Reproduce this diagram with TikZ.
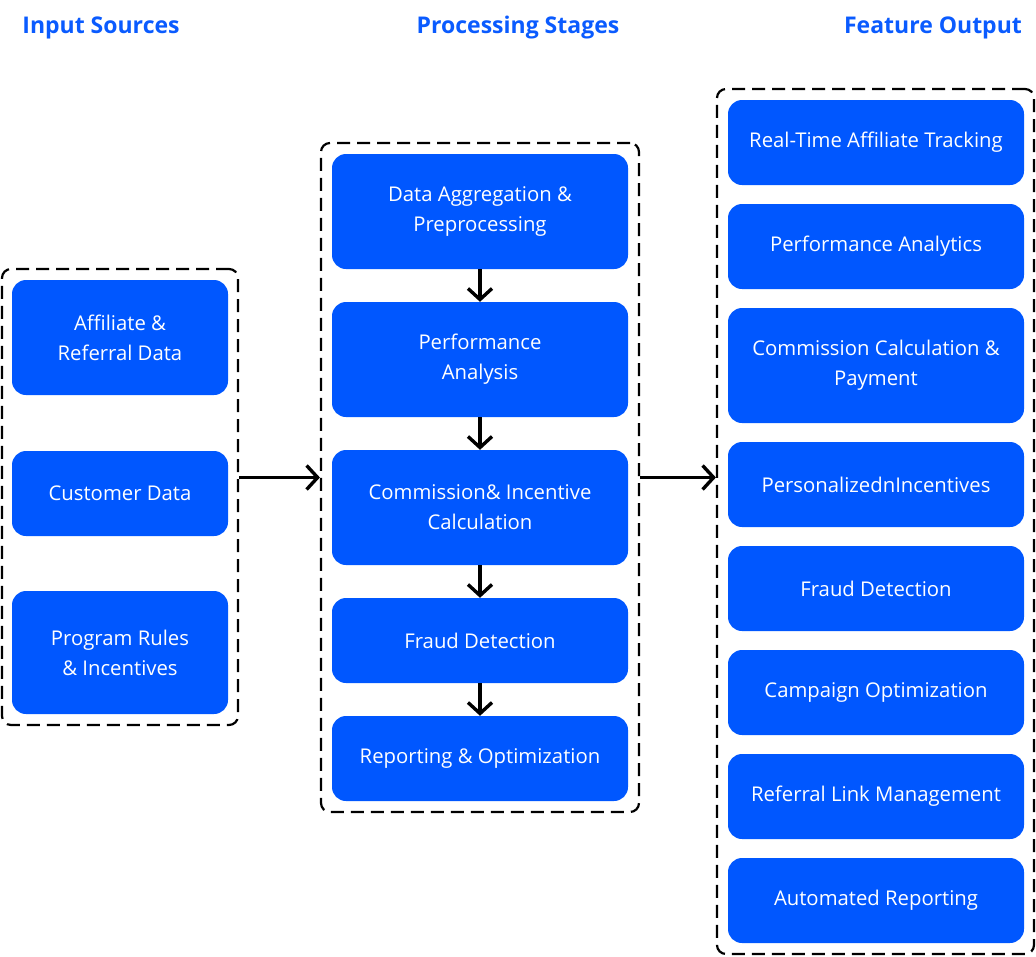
\documentclass[tikz,border=0pt]{standalone}
\usepackage{fontspec}
\setmainfont{Open Sans}
\usetikzlibrary{arrows.meta}
\definecolor{boxblue}{HTML}{0057FF}
\definecolor{titleblue}{HTML}{0A5BFF}
\tikzset{
  box/.style={fill=boxblue, draw=none, rounded corners=14pt, text=white, align=center,
    font=\fontsize{20.3}{30}\selectfont, inner sep=0pt},
  group/.style={draw=black, line width=2.2pt, dash pattern=on 13pt off 7pt, rounded corners=9pt, inner sep=0pt},
  title/.style={text=titleblue, font=\fontsize{23}{26}\selectfont\bfseries, anchor=center},
  arr/.style={draw=black, line width=3.4pt, -{Straight Barb[length=11pt,width=24pt,line width=3.4pt]}},
}
\begin{document}
\begin{tikzpicture}[x=1pt,y=-1pt]
\useasboundingbox (0,0) rectangle (1036,956);
% titles
\node[title] (t1) at (101,28) {Input Sources};
\node[title] (t2) at (518,28) {Processing Stages};
\node[title] (t3) at (933,28) {Feature Output};
% groups
\node[group, minimum width=236pt, minimum height=456pt] (gl) at (120,497) {};
\node[group, minimum width=318pt, minimum height=669pt] (gm) at (480,477.5) {};
\node[group, minimum width=317pt, minimum height=865pt] (gr) at (875.5,521.5) {};
% left boxes
\node[box, minimum width=216pt, minimum height=115pt] (l1) at (120,337.5) {Affiliate \&\\Referral Data};
\node[box, minimum width=216pt, minimum height=85pt] (l2) at (120,493.5) {Customer Data};
\node[box, minimum width=216pt, minimum height=123pt] (l3) at (120,652.5) {Program Rules\\\& Incentives};
% middle boxes
\node[box, minimum width=296pt, minimum height=115pt] (m1) at (480,211.5) {Data Aggregation \&\\Preprocessing};
\node[box, minimum width=296pt, minimum height=115pt] (m2) at (480,359.5) {Performance\\Analysis};
\node[box, minimum width=296pt, minimum height=115pt] (m3) at (480,507.5) {Commission\& Incentive\\Calculation};
\node[box, minimum width=296pt, minimum height=85pt] (m4) at (480,640.5) {Fraud Detection};
\node[box, minimum width=296pt, minimum height=85pt] (m5) at (480,758.5) {Reporting \& Optimization};
% right boxes
\node[box, minimum width=296pt, minimum height=85pt] (r1) at (876,142.5) {Real-Time Affiliate Tracking};
\node[box, minimum width=296pt, minimum height=85pt] (r2) at (876,246.5) {Performance Analytics};
\node[box, minimum width=296pt, minimum height=115pt] (r3) at (876,365.5) {Commission Calculation \&\\Payment};
\node[box, minimum width=296pt, minimum height=85pt] (r4) at (876,484.5) {PersonalizednIncentives};
\node[box, minimum width=296pt, minimum height=85pt] (r5) at (876,588.5) {Fraud Detection};
\node[box, minimum width=296pt, minimum height=85pt] (r6) at (876,692.5) {Campaign Optimization};
\node[box, minimum width=296pt, minimum height=85pt] (r7) at (876,796.5) {Referral Link Management};
\node[box, minimum width=296pt, minimum height=85pt] (r8) at (876,900.5) {Automated Reporting};
% arrows
\draw[arr] (m1.south) -- (m2.north);
\draw[arr] (m2.south) -- (m3.north);
\draw[arr] (m3.south) -- (m4.north);
\draw[arr] (m4.south) -- (m5.north);
\draw[arr] (gm.west -| gl.east) -- (gm.west);
\draw[arr] (gm.east) -- (gm.east -| gr.west);
\end{tikzpicture}
\end{document}
